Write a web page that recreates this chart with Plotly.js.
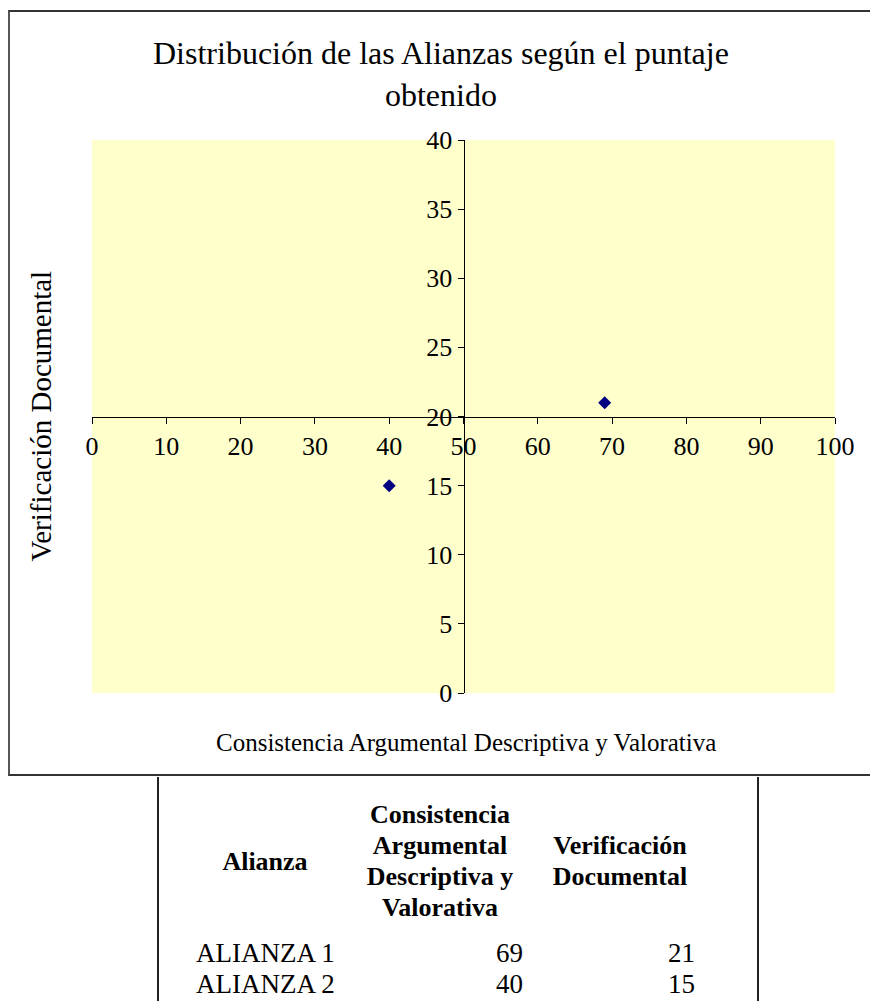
<!DOCTYPE html>
<html>
<head>
<meta charset="utf-8">
<script src="https://cdn.plot.ly/plotly-3.0.1.min.js"></script>
<style>
  html, body { margin: 0; padding: 0; background: #ffffff; width: 870px; height: 1001px; overflow: hidden; }
  #frame { position: absolute; left: 8px; top: 10px; width: 870px; height: 766px;
           border-left: 2px solid #555; border-top: 2px solid #333; border-bottom: 2px solid #333; box-sizing: border-box; }
  #chart { position: absolute; left: 0; top: 0; width: 870px; height: 780px; }
  .vline { position: absolute; top: 777px; width: 2px; height: 230px; background: #222; }
  #tbl { position: absolute; left: 160px; top: 797px; border-collapse: collapse; table-layout: fixed;
         font-family: "Liberation Serif", "Times New Roman", serif; color: #000; }
  #tbl th { font-weight: bold; font-size: 26px; line-height: 31px; vertical-align: middle; text-align: center; padding: 0; }
  #tbl td { font-size: 27px; line-height: 30px; padding: 0; height: 31px; vertical-align: middle; }
</style>
</head>
<body>
<div id="chart"></div>
<div id="frame"></div>
<div class="vline" style="left:157px"></div>
<div class="vline" style="left:757px"></div>
<table id="tbl"></table>
<script>
// ---- data ----
const alianzas = ["ALIANZA 1", "ALIANZA 2"];
const consistencia = [69, 40];
const verificacion = [21, 15];
const headers = ["Alianza", "Consistencia<br>Argumental<br>Descriptiva y<br>Valorativa", "Verificación<br>Documental"];
const chartTitle = "Distribución de las Alianzas según el puntaje<br>obtenido";
const xTitle = "Consistencia Argumental Descriptiva y Valorativa";
const yTitle = "Verificación Documental";

const serif = "Liberation Serif, Times New Roman, serif";

const trace = {
  type: "scatter", mode: "markers",
  x: consistencia, y: verificacion, text: alianzas,
  marker: { symbol: "diamond", size: 10, color: "#000080", line: { width: 0 } },
  hoverinfo: "text+x+y", showlegend: false
};

const layout = {
  width: 870, height: 780,
  margin: { l: 92, r: 35, t: 140, b: 87 },
  paper_bgcolor: "rgba(0,0,0,0)",
  plot_bgcolor: "#FFFFCC",
  font: { family: serif, color: "#000", size: 26 },
  xaxis: {
    range: [0, 100], dtick: 10, tick0: 0,
    anchor: "free", position: 0.5,
    showline: true, linecolor: "#000", linewidth: 1,
    ticks: "outside", ticklen: 6, tickcolor: "#000", tickwidth: 1,
    showgrid: false, zeroline: false,
    tickfont: { family: serif, size: 26, color: "#000" }
  },
  yaxis: {
    range: [0, 40], dtick: 5, tick0: 0,
    anchor: "free", position: 0.5,
    showline: true, linecolor: "#000", linewidth: 1,
    ticks: "outside", ticklen: 6, tickcolor: "#000", tickwidth: 1,
    showgrid: false, zeroline: false,
    tickfont: { family: serif, size: 26, color: "#000" }
  },
  annotations: [
    { text: chartTitle, xref: "paper", yref: "paper", x: (441 - 92) / 743, y: (693 - 74) / 553,
      xanchor: "center", yanchor: "middle", showarrow: false,
      font: { family: serif, size: 32, color: "#000" } },
    { text: xTitle, xref: "paper", yref: "paper", x: (466 - 92) / 743, y: -(742 - 693) / 553,
      xanchor: "center", yanchor: "middle", showarrow: false,
      font: { family: serif, size: 25, color: "#000" } },
    { text: yTitle, xref: "paper", yref: "paper", x: -(92 - 40) / 743, y: 0.5, textangle: -90,
      xanchor: "center", yanchor: "middle", showarrow: false,
      font: { family: serif, size: 29, color: "#000" } }
  ]
};

Plotly.newPlot("chart", [trace], layout, { displayModeBar: false, staticPlot: true });

// ---- table ----
const tbl = document.getElementById("tbl");
const colW = [195, 170, 190];
let html = "<colgroup>" + colW.map(w => `<col style="width:${w}px">`).join("") + "</colgroup>";
html += `<tr style="height:128px"><th style="padding-left:15px">${headers[0]}</th><th style="padding-left:0px">${headers[1]}</th><th>${headers[2]}</th></tr>`;
for (let i = 0; i < alianzas.length; i++) {
  const pt = i === 0 ? "padding-top:12px;" : "";
  html += `<tr><td style="${pt}padding-left:36px">${alianzas[i]}</td>` +
          `<td style="${pt}text-align:right;padding-right:2px">${consistencia[i]}</td>` +
          `<td style="${pt}text-align:right;padding-right:20px">${verificacion[i]}</td></tr>`;
}
tbl.innerHTML = html;
</script>
</body>
</html>
